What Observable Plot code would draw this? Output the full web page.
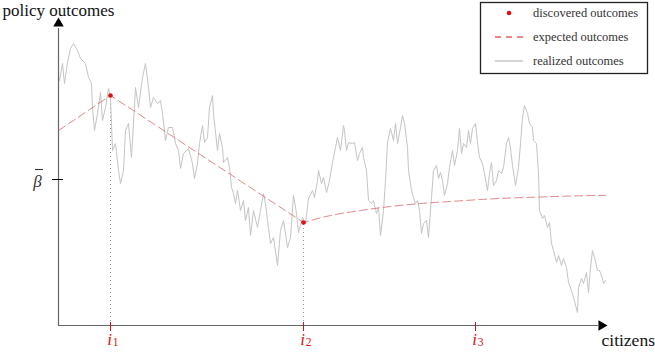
<!DOCTYPE html>
<html>
<head>
<meta charset="utf-8">
<script src="https://cdn.jsdelivr.net/npm/d3@7"></script>
<script src="https://cdn.jsdelivr.net/npm/@observablehq/plot@0.6"></script>
<style>
  html, body { margin: 0; padding: 0; background: #fff; }
  #chart svg { display: block; }
  #chart svg text { font-family: "Liberation Serif", "DejaVu Serif", serif; }
</style>
</head>
<body>
<div id="chart"></div>
<script>
// realized outcomes (random walk), citizen index vs outcome
const citizens = [1,4,6,9,12,15,19,22,27,30,33,34,36,39,42,44,47,50,52,54,57,60,62,65,67,70,73,77,80,84,87,90,92,95,99,102,104,107,110,114,117,120,122,125,
130,134,136,139,141,144,146,149,151,154,155,159,161,164,165,169,171,173,175,177,179,182,185,187,190,192,195,199,202,205,207,209,212,215,219,222,225,229,232,235,238,240,244,247,250,
254,256,259,260,263,265,268,271,274,277,279,282,285,286,288,290,294,296,299,301,304,305,308,310,313,315,318,320,322,325,327,329,332,335,337,339,342,344,346,349,350,353,355,357,359,361,363,365,368,370,
373,375,378,380,382,384,386,389,391,394,396,399,401,403,405,408,410,412,414,417,419,421,424,426,429,431,433,435,438,440,443,445,448,450,452,454,457,460,462,464,466,469,471,474,475,478,480,481,484,486,489,491,493,495,498,500,503,505,508,510,513,515,519,520,523,525,528,530,532,534,536,539,541,544,545,547];
const realized = [2.45,2.62,2.42,2.63,2.77,2.82,2.75,2.67,2.62,2.48,2.42,2.18,1.95,2.12,2.33,2.05,2.18,2.37,2.28,1.75,1.82,1.55,1.42,1.55,1.95,2.02,1.68,2.38,2.18,2.48,2.62,2.38,2.18,2.28,2.22,2.25,2.12,1.85,1.98,1.98,1.82,1.75,1.57,1.72,
1.77,1.62,1.47,1.62,1.82,2.00,1.83,1.88,2.18,2.30,2.12,1.75,1.92,1.78,1.63,1.68,1.58,1.38,1.32,1.22,1.35,1.15,1.25,1.05,1.18,0.90,1.15,0.98,1.15,1.32,1.22,1.05,0.82,0.88,0.60,0.95,1.05,0.78,0.88,1.30,1.12,0.93,1.08,1.02,1.27,
1.35,1.28,1.45,1.55,1.42,1.48,1.33,1.45,1.63,1.78,1.88,1.75,2.00,1.95,1.75,1.83,1.82,1.83,1.65,1.72,1.78,1.68,1.55,1.25,1.22,1.25,1.12,1.18,0.90,1.15,1.45,1.83,1.97,1.85,2.02,1.82,1.98,2.10,2.02,1.78,1.55,1.35,1.28,1.22,1.25,1.15,0.92,1.02,1.05,0.88,
1.28,1.55,1.60,1.47,1.53,1.45,1.30,1.42,1.58,1.75,1.60,1.75,1.97,1.72,1.82,1.78,1.95,1.82,1.97,2.02,1.83,1.68,1.62,1.52,1.35,1.52,1.63,1.40,1.45,1.55,1.52,1.58,1.82,1.88,1.77,1.60,1.40,1.58,1.82,2.08,2.20,2.12,2.02,1.98,1.85,1.82,1.52,1.15,1.07,1.10,0.98,1.03,0.82,0.75,0.63,0.70,0.60,0.67,0.58,0.43,0.35,0.28,0.13,0.38,0.47,0.42,0.53,0.33,0.58,0.75,0.68,0.55,0.55,0.47,0.42,0.45];

// discovered outcomes
const discoveredX = [52, 245];
const discoveredY = [2.30, 1.03];

// expected outcomes
const expectedLinX = [0, 52, 245];
const expectedLinY = [1.95, 2.30, 1.03];
const expectedCurveX = [245, 272, 302, 332, 362, 392, 422, 452, 482, 512, 547];
const expectedCurveY = [1.03, 1.10, 1.15, 1.19, 1.22, 1.24, 1.26, 1.275, 1.285, 1.295, 1.302];

// ticks
const tickX = [52, 245, 417];
const tickSub = ["1", "2", "3"];
const betaBar = 1.46;

const xMax = 547, yMax = 3.07;
const axisXEnd = 540, axisYEnd = 2.97;

const walk = citizens.map((c, i) => ({x: c, y: realized[i]}));
const disc = discoveredX.map((x, i) => ({x, y: discoveredY[i]}));
const expLin = expectedLinX.map((x, i) => ({x, y: expectedLinY[i]}));
const expCurve = expectedCurveX.map((x, i) => ({x, y: expectedCurveY[i]}));
const ticks = tickX.map((x, i) => ({x, sub: tickSub[i]}));

const serif = "Liberation Serif";
const red = "#e01010";

const chart = Plot.plot({
  width: 655,
  height: 354,
  marginLeft: 0, marginRight: 0, marginTop: 0, marginBottom: 0,
  x: {domain: [0, xMax], range: [58, 605], axis: null},
  y: {domain: [0, yMax], range: [325, 18], axis: null},
  style: {background: "#fff", overflow: "visible"},
  marks: [
    // dotted vertical guides
    Plot.ruleX(disc, {x: "x", y1: 0, y2: "y", stroke: "#999", strokeWidth: 1, strokeDasharray: "1,3"}),
    // realized walk
    Plot.line(walk, {x: "x", y: "y", stroke: "#c4c4c4", strokeWidth: 1}),
    // expected
    Plot.line(expLin, {x: "x", y: "y", stroke: "#d96a6a", strokeOpacity: 0.8, strokeWidth: 1, strokeDasharray: "8,4"}),
    Plot.line(expCurve, {x: "x", y: "y", curve: "monotone-x", stroke: "#d96a6a", strokeOpacity: 0.8, strokeWidth: 1, strokeDasharray: "8,4", strokeDashoffset: 3}),
    // discovered
    Plot.dot(disc, {x: "x", y: "y", r: 2.3, fill: red, stroke: "none"}),
    // axes
    Plot.ruleX([0], {y1: 0, y2: axisYEnd, stroke: "#666", strokeWidth: 1.2}),
    Plot.ruleY([0], {x1: 0, x2: axisXEnd, stroke: "#666", strokeWidth: 1.2}),
    Plot.dot([{x: 0, y: 3.02}], {x: "x", y: "y", symbol: "triangle", r: 3.9, fill: "#000", stroke: "none"}),
    Plot.dot([{x: 543, y: 0}], {x: "x", y: "y", symbol: "triangle", r: 3.9, rotate: 90, fill: "#000", stroke: "none"}),
    // beta bar tick and label (bar drawn as a short rule above beta)
    Plot.ruleY([betaBar], {x1: -6, x2: 5, stroke: "#000", strokeWidth: 1}),
    Plot.text(["β"], {x: 0, y: betaBar, dx: -21, dy: 2, fontSize: 17, fontStyle: "italic", fontFamily: serif, fill: "#333", textAnchor: "middle"}),
    Plot.ruleY([betaBar], {x1: -23, x2: -15, dy: -10, stroke: "#333", strokeWidth: 1.1}),
    // red ticks
    Plot.ruleX(ticks, {x: "x", y1: -0.06, y2: 0.03, stroke: red, strokeWidth: 1}),
    Plot.text(ticks, {x: "x", y: 0, text: () => "i", dx: -1, dy: 14, fontSize: 17, fontStyle: "italic", fontFamily: serif, fill: red, textAnchor: "middle"}),
    Plot.text(ticks, {x: "x", y: 0, text: "sub", dx: 5, dy: 17, fontSize: 11.5, fontFamily: serif, fill: red, textAnchor: "middle"}),
    // axis titles
    Plot.text(["policy outcomes"], {frameAnchor: "top-left", lineAnchor: "middle", dx: 2, dy: 10, fontSize: 17, fontFamily: serif, fill: "#111", textAnchor: "start"}),
    Plot.text(["citizens"], {x: xMax, y: 0, dx: -4, dy: 15, fontSize: 17.5, fontFamily: serif, fill: "#111", textAnchor: "start"})
  ]
});

document.getElementById("chart").appendChild(chart);

// legend box in the top-right corner
const svg = d3.select(chart);
const lg = svg.append("g");
lg.append("rect").attr("x", 480.5).attr("y", 2.5).attr("width", 167).attr("height", 71)
  .attr("fill", "#fff").attr("stroke", "#222").attr("stroke-width", 1.3);
const items = [
  {label: "discovered outcomes", kind: "dot"},
  {label: "expected outcomes", kind: "dash"},
  {label: "realized outcomes", kind: "line"}
];
items.forEach((d, i) => {
  const cy = 13 + i * 24;
  if (d.kind === "dot") {
    lg.append("circle").attr("cx", 509).attr("cy", cy).attr("r", 2.3).attr("fill", red);
  } else if (d.kind === "dash") {
    lg.append("line").attr("x1", 495).attr("x2", 523).attr("y1", cy).attr("y2", cy)
      .attr("stroke", red).attr("stroke-width", 1).attr("stroke-dasharray", "6,5");
  } else {
    lg.append("line").attr("x1", 495).attr("x2", 523).attr("y1", cy).attr("y2", cy)
      .attr("stroke", "#aaa").attr("stroke-width", 1);
  }
  lg.append("text").attr("x", 533).attr("y", cy).attr("dy", "0.35em")
    .attr("text-anchor", "start").attr("font-family", serif)
    .attr("font-size", 12.5).attr("fill", "#333").text(d.label);
});
</script>
</body>
</html>
